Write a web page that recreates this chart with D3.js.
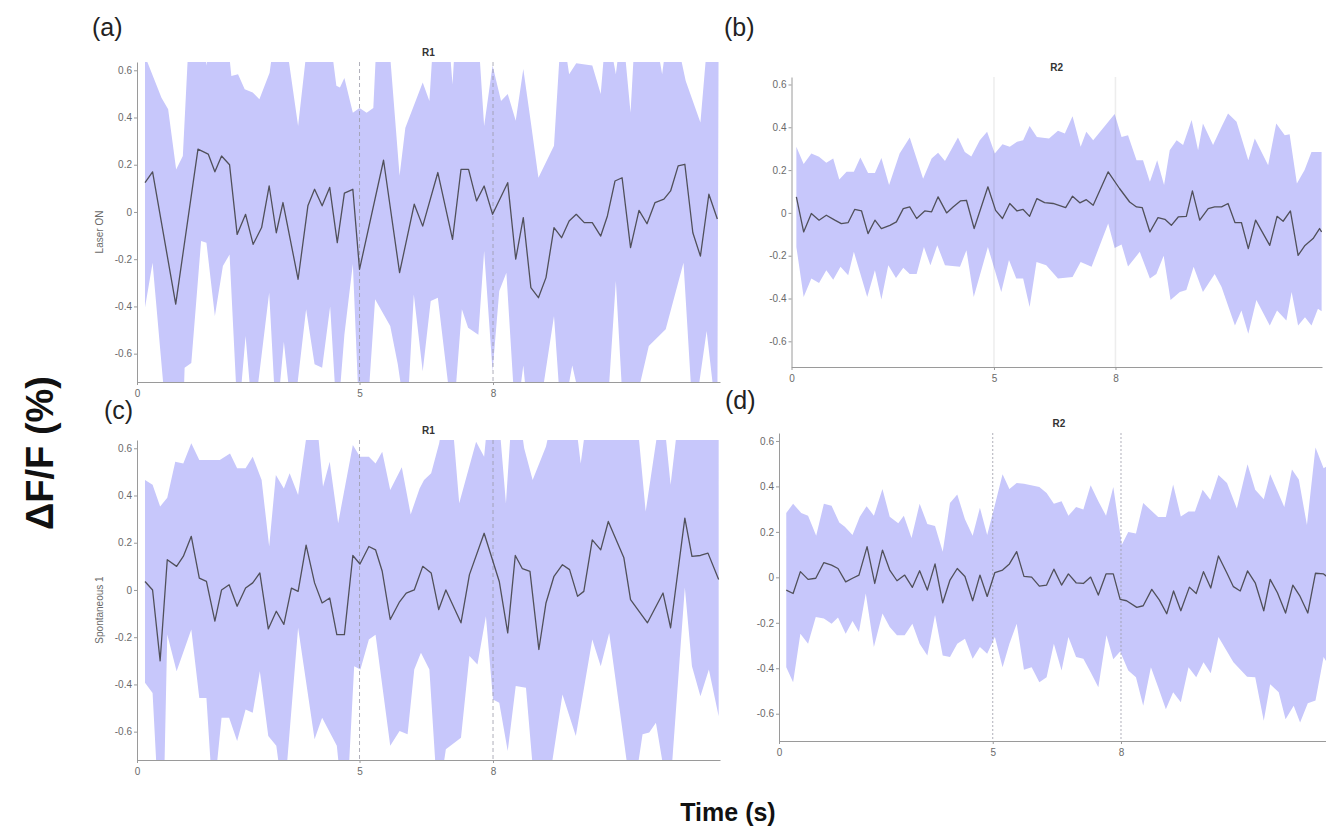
<!DOCTYPE html>
<html>
<head>
<meta charset="utf-8">
<script src="https://cdn.jsdelivr.net/npm/d3@7"></script>
<style>
  body { margin: 0; background: #fff; }
  svg { display: block; font-family: "Liberation Sans", Arial, sans-serif; }
  .tick text { fill: #6a6a6a; font-size: 10px; }
  .tick line, .domain { stroke: #9a9a9a; }
</style>
</head>
<body>
<script>
// time axis ticks and y ticks
var xTicks = [0, 5, 8];
var yTicks = [-0.6, -0.4, -0.2, 0, 0.2, 0.4, 0.6];
var stimTimes = [5, 8];

// panel (a) R1 laser ON : [time, dF/F]
var aMean = [[0.18,0.124],[0.35,0.17],[0.87,-0.39],[1.37,0.266],[1.6,0.245],[1.75,0.17],[1.9,0.237],[2.08,0.2],[2.25,-0.095],[2.44,-0.01],[2.61,-0.137],[2.8,-0.066],[2.97,0.11],[3.13,-0.088],[3.28,0.04],[3.62,-0.285],[3.84,0.026],[3.99,0.096],[4.16,0.026],[4.33,0.104],[4.5,-0.13],[4.66,0.08],[4.85,0.096],[5.0,-0.243],[5.54,0.219],[5.9,-0.257],[6.23,0.033],[6.42,-0.06],[6.76,0.167],[7.09,-0.116],[7.28,0.18],[7.45,0.18],[7.63,0.047],[7.8,0.11],[7.99,-0.01],[8.33,0.124],[8.51,-0.2],[8.68,-0.024],[8.85,-0.32],[9.02,-0.363],[9.19,-0.278],[9.37,-0.066],[9.54,-0.109],[9.71,-0.038],[9.87,-0.01],[10.05,-0.045],[10.23,-0.045],[10.42,-0.102],[10.57,-0.017],[10.74,0.131],[10.9,0.145],[11.09,-0.151],[11.28,0.007],[11.46,-0.05],[11.64,0.04],[11.84,0.054],[11.99,0.089],[12.16,0.195],[12.31,0.202],[12.49,-0.088],[12.66,-0.187],[12.85,0.075],[13.04,-0.03]];
var aUpper = [[0.18,0.66],[0.55,0.484],[0.7,0.435],[0.88,0.18],[1.03,0.237],[1.18,0.8],[1.45,0.8],[1.56,0.62],[1.7,0.8],[2.0,0.8],[2.12,0.576],[2.27,0.583],[2.42,0.52],[2.6,0.506],[2.75,0.477],[2.98,0.59],[3.13,0.8],[3.29,0.8],[3.62,0.364],[3.88,0.8],[4.3,0.8],[4.48,0.534],[4.56,0.527],[4.66,0.567],[4.85,0.42],[5.0,0.44],[5.16,0.42],[5.31,0.44],[5.4,0.8],[5.63,0.8],[5.9,0.153],[6.03,0.357],[6.42,0.548],[6.57,0.47],[6.68,0.8],[6.98,0.8],[7.09,0.54],[7.17,0.8],[7.65,0.8],[7.8,0.364],[7.99,0.62],[8.18,0.47],[8.33,0.5],[8.51,0.386],[8.68,0.605],[8.85,0.379],[9.02,0.145],[9.37,0.28],[9.54,0.8],[9.71,0.583],[9.87,0.63],[10.23,0.62],[10.42,0.5],[10.55,0.8],[10.76,0.583],[10.9,0.8],[11.09,0.42],[11.2,0.8],[11.6,0.8],[11.8,0.583],[11.95,0.8],[12.05,0.8],[12.33,0.555],[12.66,0.379],[12.85,0.8],[13.07,0.8]];
var aLower = [[0.18,-0.405],[0.35,-0.215],[0.67,-0.9],[1.03,-0.9],[1.07,-0.66],[1.22,-0.64],[1.44,-0.123],[1.56,-0.13],[1.75,-0.44],[1.93,-0.229],[2.08,-0.18],[2.27,-0.9],[2.44,-0.525],[2.61,-0.9],[2.97,-0.342],[3.13,-0.9],[3.3,-0.55],[3.5,-0.9],[3.8,-0.412],[3.99,-0.645],[4.16,-0.66],[4.34,-0.4],[4.5,-0.9],[4.66,-0.52],[4.85,-0.22],[5.0,-0.9],[5.16,-0.9],[5.35,-0.37],[5.69,-0.483],[5.86,-0.645],[6.06,-0.9],[6.22,-0.349],[6.42,-0.674],[6.6,-0.377],[6.76,-0.363],[7.1,-0.9],[7.3,-0.412],[7.44,-0.49],[7.67,-0.52],[7.8,-0.165],[7.99,-0.675],[8.14,-0.335],[8.3,-0.257],[8.51,-0.9],[8.68,-0.65],[8.81,-0.9],[9.0,-0.9],[9.37,-0.44],[9.54,-0.9],[9.78,-0.65],[10.08,-0.9],[10.55,-0.9],[10.76,-0.292],[10.94,-0.9],[11.09,-0.9],[11.5,-0.568],[11.88,-0.497],[12.28,-0.215],[12.5,-0.9],[12.8,-0.504],[13.04,-0.9]];

// panel (b) R2 laser ON
var bMean = [[0.12,0.075],[0.3,-0.089],[0.49,-0.003],[0.68,-0.034],[0.86,-0.011],[1.07,-0.034],[1.23,-0.05],[1.4,-0.045],[1.56,0.016],[1.73,0.009],[1.89,-0.097],[2.06,-0.034],[2.22,-0.073],[2.43,-0.058],[2.59,-0.042],[2.76,0.02],[2.92,0.028],[3.09,-0.026],[3.29,0.009],[3.46,0.005],[3.62,0.075],[3.83,0.0],[3.99,0.028],[4.17,0.056],[4.32,0.059],[4.51,-0.073],[4.85,0.122],[5.04,0.012],[5.21,-0.026],[5.39,0.044],[5.57,0.009],[5.72,0.016],[5.88,-0.016],[6.06,0.067],[6.25,0.048],[6.46,0.044],[6.77,0.025],[6.94,0.078],[7.12,0.047],[7.28,0.062],[7.45,0.036],[7.82,0.192],[8.1,0.114],[8.35,0.051],[8.52,0.028],[8.66,0.025],[8.85,-0.089],[9.05,-0.022],[9.22,-0.03],[9.38,-0.058],[9.55,-0.019],[9.75,-0.016],[9.9,0.103],[10.08,-0.034],[10.29,0.02],[10.45,0.028],[10.62,0.028],[10.78,0.044],[10.95,-0.045],[11.11,-0.045],[11.28,-0.167],[11.46,-0.034],[11.81,-0.152],[11.99,-0.016],[12.14,-0.039],[12.32,0.009],[12.51,-0.198],[12.68,-0.152],[12.88,-0.12],[13.04,-0.073],[13.09,-0.089]];
var bUpper = [[0.12,0.309],[0.3,0.228],[0.49,0.278],[0.68,0.262],[0.86,0.234],[1.03,0.254],[1.18,0.156],[1.36,0.192],[1.54,0.192],[1.7,0.259],[1.89,0.187],[2.06,0.187],[2.22,0.257],[2.41,0.13],[2.67,0.278],[2.92,0.352],[3.25,0.16],[3.46,0.254],[3.62,0.281],[3.79,0.243],[4.11,0.352],[4.28,0.284],[4.44,0.264],[4.65,0.34],[4.83,0.379],[5.02,0.278],[5.21,0.321],[5.39,0.309],[5.57,0.332],[5.72,0.34],[5.88,0.406],[6.06,0.355],[6.36,0.348],[6.58,0.384],[6.75,0.371],[6.94,0.452],[7.14,0.309],[7.28,0.379],[7.45,0.34],[7.98,0.462],[8.15,0.355],[8.31,0.363],[8.52,0.246],[8.68,0.246],[8.85,0.145],[9.03,0.246],[9.2,0.13],[9.34,0.293],[9.51,0.34],[9.67,0.317],[9.88,0.434],[10.04,0.293],[10.16,0.418],[10.41,0.317],[10.62,0.402],[10.78,0.465],[10.99,0.426],[11.28,0.246],[11.44,0.348],[11.77,0.223],[11.97,0.418],[12.18,0.363],[12.3,0.368],[12.48,0.137],[12.67,0.2],[12.84,0.285],[13.09,0.285]];
var bLower = [[0.12,-0.159],[0.3,-0.393],[0.49,-0.307],[0.68,-0.327],[0.86,-0.268],[1.03,-0.312],[1.21,-0.252],[1.4,-0.291],[1.54,-0.182],[1.87,-0.393],[2.06,-0.268],[2.22,-0.405],[2.39,-0.245],[2.58,-0.304],[2.76,-0.256],[2.92,-0.285],[3.09,-0.285],[3.27,-0.159],[3.43,-0.245],[3.6,-0.151],[3.79,-0.245],[4.16,-0.252],[4.32,-0.174],[4.5,-0.393],[4.85,-0.159],[5.18,-0.37],[5.37,-0.22],[5.55,-0.307],[5.72,-0.307],[5.88,-0.44],[6.05,-0.229],[6.29,-0.245],[6.58,-0.307],[6.94,-0.3],[7.14,-0.229],[7.41,-0.252],[7.82,-0.05],[7.98,-0.164],[8.15,-0.148],[8.31,-0.25],[8.6,-0.182],[8.85,-0.307],[9.01,-0.285],[9.19,-0.2],[9.36,-0.407],[9.59,-0.37],[9.75,-0.36],[9.93,-0.252],[10.16,-0.37],[10.45,-0.285],[10.62,-0.346],[10.95,-0.526],[11.11,-0.456],[11.28,-0.565],[11.48,-0.407],[11.81,-0.526],[11.99,-0.456],[12.22,-0.503],[12.35,-0.37],[12.51,-0.526],[12.68,-0.487],[12.84,-0.526],[13.0,-0.448],[13.09,-0.46]];

// panel (c) R1 spontaneous
var cMean = [[0.18,0.036],[0.35,0.0],[0.52,-0.3],[0.68,0.128],[0.89,0.1],[1.04,0.142],[1.22,0.227],[1.4,0.05],[1.56,0.036],[1.75,-0.132],[1.9,0.0],[2.07,0.022],[2.25,-0.069],[2.44,0.008],[2.6,0.03],[2.76,0.072],[2.95,-0.165],[3.13,-0.09],[3.3,-0.146],[3.47,0.008],[3.62,-0.006],[3.8,0.19],[3.99,0.03],[4.16,-0.055],[4.33,-0.034],[4.49,-0.189],[4.66,-0.189],[4.85,0.146],[5.01,0.11],[5.21,0.184],[5.36,0.17],[5.51,0.079],[5.69,-0.125],[5.9,-0.05],[6.05,-0.013],[6.23,0.0],[6.42,0.1],[6.61,0.072],[6.78,-0.083],[6.94,0.0],[7.28,-0.139],[7.47,0.065],[7.8,0.24],[8.14,0.036],[8.33,-0.182],[8.5,0.146],[8.66,0.09],[8.83,0.079],[9.03,-0.252],[9.19,-0.055],[9.37,0.058],[9.56,0.107],[9.72,0.086],[9.9,-0.027],[10.04,-0.006],[10.23,0.212],[10.42,0.17],[10.59,0.29],[10.94,0.136],[11.09,-0.041],[11.47,-0.139],[11.82,-0.013],[11.99,-0.16],[12.31,0.304],[12.47,0.142],[12.66,0.146],[12.83,0.156],[13.07,0.044]];
var cUpper = [[0.18,0.466],[0.35,0.445],[0.52,0.353],[0.68,0.39],[0.86,0.543],[1.04,0.536],[1.22,0.621],[1.4,0.55],[1.86,0.55],[2.09,0.578],[2.25,0.515],[2.44,0.515],[2.6,0.564],[2.8,0.466],[2.97,0.184],[3.12,0.487],[3.3,0.43],[3.43,0.494],[3.62,0.402],[3.92,0.8],[4.0,0.8],[4.18,0.437],[4.33,0.543],[4.52,0.283],[4.85,0.614],[5.01,0.564],[5.21,0.564],[5.36,0.536],[5.51,0.585],[5.69,0.423],[5.95,0.52],[6.15,0.32],[6.35,0.43],[6.45,0.466],[6.61,0.494],[6.79,0.621],[6.94,0.8],[7.05,0.8],[7.24,0.367],[7.62,0.628],[7.8,0.564],[7.92,0.8],[8.1,0.8],[8.29,0.367],[8.44,0.8],[8.55,0.8],[8.7,0.6],[8.89,0.466],[9.19,0.607],[9.41,0.8],[9.8,0.8],[9.97,0.536],[10.16,0.8],[11.2,0.8],[11.43,0.332],[11.8,0.8],[11.99,0.445],[12.21,0.8],[13.07,0.8]];
var cLower = [[0.18,-0.393],[0.35,-0.436],[0.48,-0.9],[0.6,-0.9],[0.68,-0.189],[0.89,-0.344],[1.22,-0.167],[1.4,-0.457],[1.56,-0.457],[1.71,-0.9],[1.9,-0.541],[2.07,-0.541],[2.25,-0.64],[2.44,-0.506],[2.6,-0.52],[2.76,-0.344],[2.95,-0.618],[3.13,-0.66],[3.3,-0.9],[3.62,-0.16],[3.99,-0.632],[4.16,-0.541],[4.49,-0.66],[4.62,-0.9],[4.72,-0.9],[4.88,-0.323],[5.02,-0.337],[5.21,-0.21],[5.36,-0.19],[5.69,-0.66],[5.9,-0.597],[6.08,-0.611],[6.23,-0.337],[6.38,-0.266],[6.57,-0.337],[6.76,-0.9],[6.94,-0.675],[7.28,-0.626],[7.47,-0.28],[7.65,-0.316],[7.84,-0.111],[8.0,-0.464],[8.14,-0.478],[8.33,-0.682],[8.51,-0.407],[8.74,-0.414],[8.96,-0.9],[9.19,-0.9],[9.56,-0.443],[9.86,-0.618],[10.23,-0.21],[10.42,-0.323],[10.61,-0.182],[11.13,-0.9],[11.36,-0.611],[11.51,-0.604],[11.66,-0.562],[11.96,-0.9],[12.31,0.01],[12.47,-0.323],[12.66,-0.45],[12.85,-0.337],[13.07,-0.535]];

// panel (d) R2 spontaneous
var dMean = [[0.17,-0.056],[0.33,-0.071],[0.5,0.025],[0.68,-0.009],[0.86,-0.004],[1.05,0.065],[1.23,0.054],[1.38,0.039],[1.56,-0.02],[1.72,-0.004],[1.87,0.01],[2.06,0.135],[2.24,-0.027],[2.42,0.12],[2.59,0.032],[2.76,-0.015],[2.94,0.01],[3.12,-0.044],[3.29,0.029],[3.47,-0.056],[3.65,0.059],[3.83,-0.112],[4.0,-0.012],[4.17,0.039],[4.35,0.004],[4.53,-0.103],[4.7,0.01],[4.87,-0.084],[5.05,0.021],[5.23,0.032],[5.39,0.059],[5.56,0.113],[5.73,0.004],[5.91,0.001],[6.09,-0.039],[6.26,-0.034],[6.43,0.036],[6.61,-0.034],[6.77,0.015],[6.95,-0.024],[7.12,-0.027],[7.29,0.001],[7.47,-0.078],[7.65,0.015],[7.82,0.015],[7.98,-0.097],[8.13,-0.103],[8.37,-0.132],[8.52,-0.125],[8.72,-0.053],[8.9,-0.1],[9.07,-0.16],[9.23,-0.06],[9.4,-0.147],[9.6,-0.043],[9.76,-0.071],[9.93,0.025],[10.1,-0.047],[10.28,0.094],[10.48,0.018],[10.63,-0.041],[10.79,-0.06],[10.96,0.028],[11.14,-0.024],[11.34,-0.147],[11.49,-0.009],[11.66,-0.068],[11.85,-0.157],[12.02,-0.034],[12.19,-0.084],[12.37,-0.157],[12.55,0.018],[12.74,0.015],[12.9,-0.01],[13.05,-0.03]];
var dUpper = [[0.17,0.283],[0.33,0.324],[0.52,0.283],[0.68,0.271],[0.87,0.183],[1.05,0.324],[1.23,0.315],[1.41,0.241],[1.54,0.223],[1.72,0.186],[1.89,0.267],[2.05,0.313],[2.22,0.271],[2.42,0.389],[2.59,0.267],[2.79,0.238],[2.92,0.271],[3.1,0.173],[3.29,0.324],[3.47,0.235],[3.65,0.226],[3.83,0.113],[4.0,0.327],[4.17,0.364],[4.35,0.256],[4.53,0.183],[4.7,0.306],[4.87,0.186],[5.05,0.318],[5.23,0.453],[5.39,0.389],[5.56,0.415],[5.73,0.412],[6.09,0.397],[6.26,0.371],[6.43,0.324],[6.61,0.335],[6.77,0.271],[6.95,0.309],[7.12,0.298],[7.29,0.405],[7.47,0.335],[7.65,0.271],[7.82,0.397],[8.02,0.143],[8.17,0.2],[8.35,0.193],[8.52,0.327],[8.7,0.295],[8.87,0.265],[9.05,0.265],[9.22,0.408],[9.4,0.268],[9.58,0.29],[9.73,0.29],[9.91,0.385],[10.09,0.341],[10.28,0.45],[10.48,0.415],[10.71,0.303],[10.96,0.497],[11.14,0.385],[11.34,0.344],[11.49,0.453],[11.82,0.309],[12.0,0.474],[12.16,0.43],[12.35,0.23],[12.55,0.571],[12.74,0.48],[12.9,0.5],[13.05,0.48]];
var dLower = [[0.17,-0.395],[0.33,-0.462],[0.5,-0.248],[0.68,-0.292],[0.86,-0.174],[1.05,-0.181],[1.23,-0.204],[1.38,-0.177],[1.56,-0.248],[1.72,-0.192],[1.87,-0.24],[2.03,-0.071],[2.22,-0.307],[2.42,-0.159],[2.59,-0.219],[2.76,-0.255],[2.94,-0.255],[3.12,-0.204],[3.29,-0.292],[3.47,-0.344],[3.65,-0.166],[3.83,-0.344],[4.0,-0.351],[4.17,-0.292],[4.35,-0.27],[4.53,-0.358],[4.7,-0.307],[4.87,-0.336],[5.05,-0.262],[5.23,-0.395],[5.39,-0.292],[5.56,-0.204],[5.73,-0.407],[5.91,-0.395],[6.09,-0.462],[6.26,-0.44],[6.43,-0.292],[6.61,-0.41],[6.77,-0.262],[6.95,-0.351],[7.12,-0.358],[7.29,-0.417],[7.47,-0.484],[7.66,-0.255],[7.82,-0.36],[7.98,-0.326],[8.17,-0.41],[8.35,-0.44],[8.52,-0.565],[8.7,-0.395],[8.87,-0.484],[9.05,-0.58],[9.22,-0.506],[9.4,-0.55],[9.58,-0.395],[9.76,-0.44],[9.93,-0.373],[10.1,-0.422],[10.28,-0.262],[10.63,-0.373],[10.95,-0.437],[11.14,-0.44],[11.34,-0.631],[11.49,-0.47],[11.69,-0.506],[11.85,-0.624],[12.04,-0.565],[12.19,-0.639],[12.37,-0.554],[12.55,-0.542],[12.74,-0.351],[12.9,-0.4],[13.05,-0.45]];

function init(){
    var svg = d3.select("body").append("svg")
        .attr("width", 1326)
        .attr("height", 829);

    // layout of the four panels (pixels)
    var panels = [
        {id: "a", mean: aMean, up: aUpper, lo: aLower, title: "R1", letter: "(a)", ylab: "Laser ON",
         left: 137, right: 720, top: 62, bottom: 382, letterX: 92, letterY: 36, vstyle: "dash"},
        {id: "b", mean: bMean, up: bUpper, lo: bLower, title: "R2", letter: "(b)", ylab: null,
         left: 791.5, right: 1322, top: 77, bottom: 367, letterX: 724, letterY: 36, vstyle: "solid"},
        {id: "c", mean: cMean, up: cUpper, lo: cLower, title: "R1", letter: "(c)", ylab: "Spontaneous 1",
         left: 137, right: 720, top: 440, bottom: 760, letterX: 104, letterY: 419, vstyle: "dash"},
        {id: "d", mean: dMean, up: dUpper, lo: dLower, title: "R2", letter: "(d)", ylab: null,
         left: 779, right: 1339, top: 433, bottom: 741, letterX: 725, letterY: 409, vstyle: "dot"}
    ];

    panels.forEach(function(p){
        var x = d3.scaleLinear().domain([0, 13.1]).range([p.left, p.right]);
        var y = d3.scaleLinear().domain([-0.72, 0.635]).range([p.bottom, p.top]);

        var g = svg.append("g");

        // clip to the axes box
        svg.append("clipPath").attr("id", "clip-" + p.id)
            .append("rect")
            .attr("x", p.left).attr("y", p.top)
            .attr("width", p.right - p.left).attr("height", p.bottom - p.top);

        var line = d3.line()
            .x(function(d){ return x(d[0]); })
            .y(function(d){ return y(d[1]); });

        // shaded band: upper edge forward, lower edge back
        var band = p.up.concat(p.lo.slice().reverse());
        g.append("path")
            .attr("clip-path", "url(#clip-" + p.id + ")")
            .attr("d", line(band) + "Z")
            .attr("fill", "#c7c7fb")
            .attr("stroke", "none");

        // stimulus markers
        g.selectAll(".stim")
            .data(stimTimes)
            .enter()
            .append("line")
            .attr("x1", function(d){ return x(d); })
            .attr("x2", function(d){ return x(d); })
            .attr("y1", p.top)
            .attr("y2", p.bottom)
            .attr("stroke", p.vstyle === "solid" ? "rgba(0,0,0,0.07)" : "#9a9aa8")
            .attr("stroke-width", p.vstyle === "solid" ? 1.6 : 0.8)
            .attr("stroke-dasharray", p.vstyle === "dash" ? "4,3" : (p.vstyle === "dot" ? "2,2" : null));

        // mean trace
        g.append("path")
            .attr("clip-path", "url(#clip-" + p.id + ")")
            .attr("d", line(p.mean))
            .attr("fill", "none")
            .attr("stroke", "#50505a")
            .attr("stroke-width", 1.3)
            .attr("stroke-linejoin", "round");

        // axes
        g.append("g")
            .attr("transform", "translate(" + p.left + ",0)")
            .call(d3.axisLeft(y).tickValues(yTicks).tickSize(3).tickSizeOuter(0).tickPadding(2)
                .tickFormat(function(d){ return String(d); }));

        g.append("g")
            .attr("transform", "translate(0," + p.bottom + ")")
            .call(d3.axisBottom(x).tickValues(xTicks).tickSize(3).tickSizeOuter(0).tickPadding(5));

        // title, letter, y label
        g.append("text")
            .attr("x", (p.left + p.right) / 2)
            .attr("y", p.top - 6)
            .attr("text-anchor", "middle")
            .attr("font-size", 10)
            .attr("font-weight", "bold")
            .attr("fill", "#333")
            .text(p.title);

        g.append("text")
            .attr("x", p.letterX)
            .attr("y", p.letterY)
            .attr("font-size", 25)
            .attr("fill", "#222")
            .text(p.letter);

        if (p.ylab) {
            g.append("text")
                .attr("transform", "translate(" + (p.left - 34) + "," + ((p.top + p.bottom) / 2 + 10) + ") rotate(-90)")
                .attr("text-anchor", "middle")
                .attr("font-size", 10)
                .attr("fill", "#6a6a6a")
                .text(p.ylab);
        }
    });

    // shared axis labels
    svg.append("text")
        .attr("transform", "translate(53,453) rotate(-90)")
        .attr("text-anchor", "middle")
        .attr("font-size", 38)
        .attr("font-weight", "bold")
        .attr("fill", "#111")
        .text("\u0394F/F (%)");

    svg.append("text")
        .attr("x", 728)
        .attr("y", 821)
        .attr("text-anchor", "middle")
        .attr("font-size", 25)
        .attr("font-weight", "bold")
        .attr("fill", "#111")
        .text("Time (s)");
}
window.onload = init;
</script>
</body>
</html>
